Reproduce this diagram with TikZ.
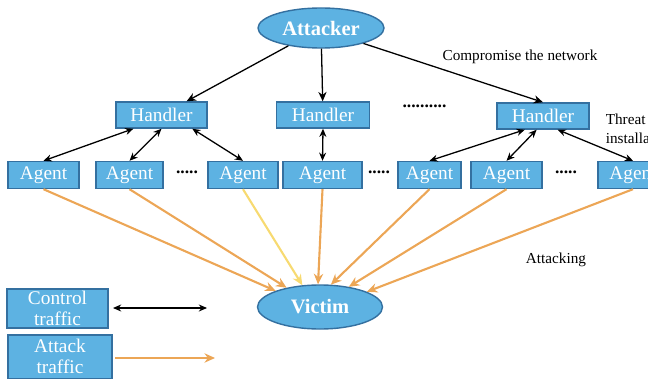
\documentclass[tikz,border=0pt]{standalone}
\usepackage{fontspec}
\setmainfont{Liberation Serif}
\usetikzlibrary{positioning}
\usetikzlibrary{shapes.geometric}
\usetikzlibrary{arrows.meta}
\definecolor{boxblue}{RGB}{93,178,226}
\definecolor{edgeblue}{RGB}{52,112,160}
\definecolor{atkorange}{RGB}{236,166,86}
\tikzset{
  box/.style={draw=edgeblue,line width=1.2pt,fill=boxblue,text=white,inner sep=0pt,
    font=\fontsize{16.5}{18}\selectfont},
  blob/.style={ellipse,draw=edgeblue,line width=1.2pt,fill=boxblue,text=white,inner sep=0pt,
    font=\fontsize{17.5}{18}\selectfont\bfseries},
  ctrl/.style={{Stealth[length=7pt,width=6pt]}-{Stealth[length=7pt,width=6pt]},line width=1.1pt},
  cmd/.style={-{Stealth[length=8pt,width=7pt]},line width=1.1pt},
  atk/.style={-{Stealth[length=9pt,width=8pt]},line width=1.8pt,draw=atkorange},
  lbl/.style={font=\fontsize{13}{16}\selectfont},
  gap/.style={font=\fontsize{15}{16}\selectfont\bfseries}
}
\begin{document}
\begin{tikzpicture}
\useasboundingbox (0,0) rectangle (19.44,11.34);
\clip (0,0) rectangle (19.44,11.34);
% attacker and handlers
\node [blob,minimum width=3.78cm,minimum height=1.2cm] (att) at (9.63,10.5) {Attacker};
\node [box,minimum width=2.73cm,minimum height=0.78cm] (h1) at (4.845,7.89) {Handler};
\node [box,minimum width=2.79cm,minimum height=0.78cm] (h2) at (9.69,7.89) {Handler};
\node [box,minimum width=2.76cm,minimum height=0.78cm] (h3) at (16.29,7.86) {Handler};
\node [gap] (hdots) at (12.735,8.15) {..........};
% agents
\node [box,minimum width=2.13cm,minimum height=0.81cm] (a1) at (1.305,6.09) {Agent};
\node [box,minimum width=2.01cm,minimum height=0.81cm] (a2) at (3.885,6.09) {Agent};
\node [gap] (d1) at (5.61,6.17) {.....};
\node [box,minimum width=2.1cm,minimum height=0.81cm] (a3) at (7.29,6.09) {Agent};
\node [box,minimum width=2.37cm,minimum height=0.81cm] (a4) at (9.675,6.09) {Agent};
\node [gap] (d2) at (11.37,6.17) {.....};
\node [box,minimum width=1.89cm,minimum height=0.81cm] (a5) at (12.885,6.09) {Agent};
\node [box,minimum width=2.13cm,minimum height=0.81cm] (a6) at (15.195,6.09) {Agent};
\node [gap] (d3) at (16.98,6.17) {.....};
\node [box,minimum width=2.1cm,minimum height=0.81cm] (a7) at (18.99,6.09) {Agent};
% victim
\node [blob,minimum width=3.75cm,minimum height=1.32cm] (vic) at (9.6,2.13) {Victim};
% labels
\node [lbl] (comp) at (15.6,9.63) {Compromise the network};
\node [lbl,align=left,anchor=north west] (threat) at (18.05,8.05) {Threat\\installation};
\node [lbl] (hit) at (16.68,3.54) {Attacking};
% commands
\draw [cmd] (att) -- (h1);
\draw [cmd] (att) -- (h2);
\draw [cmd] (att.-20) -- (h3.north);
\draw [ctrl] (h1.-154) -- (a1.north);
\draw [ctrl] (h1.south) -- (a2.north);
\draw [ctrl] (h1.-24) -- (a3.north);
\draw [ctrl] (h2.south) -- (a4.north);
\draw [ctrl] (h3.-143) -- (a5.north);
\draw [ctrl] (h3.-115) -- (a6.north);
\draw [ctrl] (h3.-43) -- (a7.north);
% attack traffic
\draw [atk] (a1.south) -- (vic.160);
\draw [atk] (a2.south) -- (vic.150);
\draw [atk,draw=atkorange!60!yellow!70] (a3.south) -- (vic.129);
\draw [atk] (a4.south) -- (vic.95);
\draw [atk] (a5.south) -- (vic.64);
\draw [atk] (a6.south) -- (vic.35);
\draw [atk] (a7.south) -- (vic.18);
% legend
\node [box,align=center,minimum width=3.03cm,minimum height=1.17cm] (kc) at (1.725,2.085) {Control\\traffic};
\node [box,align=center,minimum width=3.12cm,minimum height=1.3cm] (ka) at (1.8,0.64) {Attack\\traffic};
\coordinate (kc1) at (3.39,2.1);
\coordinate (kc2) at (6.21,2.1);
\coordinate (ka1) at (3.45,0.6);
\coordinate (ka2) at (6.45,0.6);
\draw [ctrl] (kc1) -- (kc2);
\draw [atk] (ka1) -- (ka2);
\end{tikzpicture}
\end{document}
